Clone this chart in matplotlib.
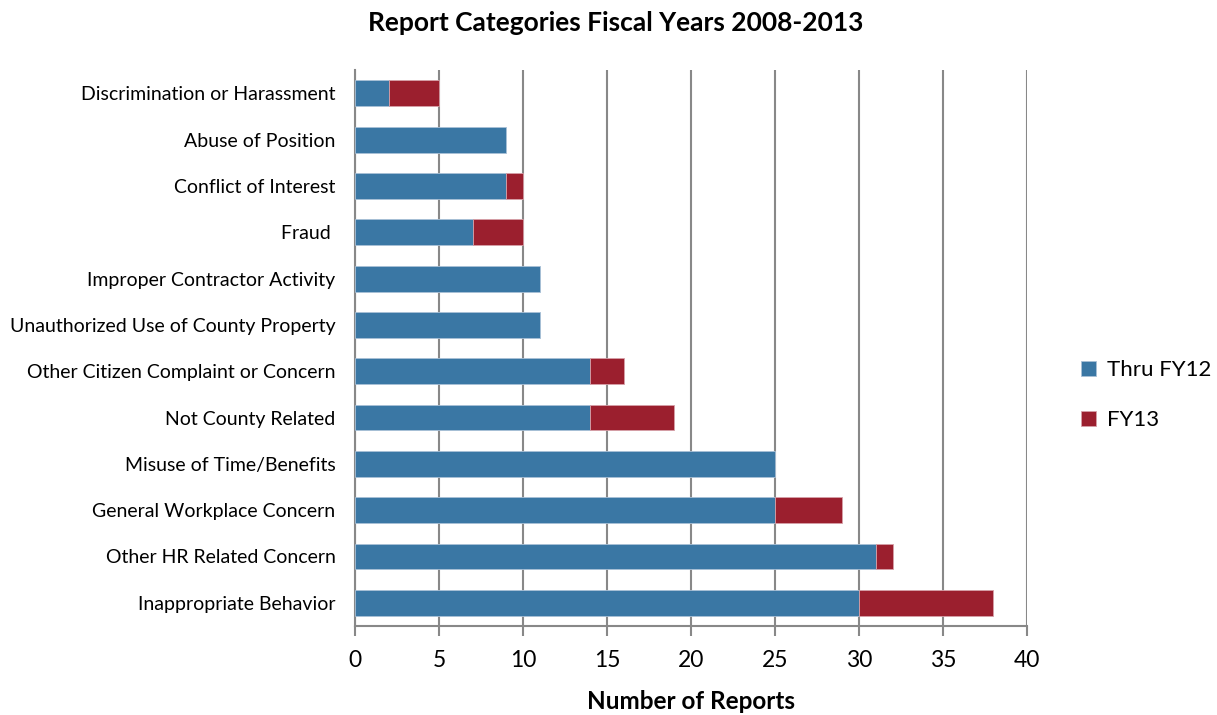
import matplotlib
matplotlib.use("Agg")
import matplotlib.pyplot as plt
import numpy as np

categories = [
    "Discrimination or Harassment",
    "Abuse of Position",
    "Conflict of Interest",
    "Fraud ",
    "Improper Contractor Activity",
    "Unauthorized Use of County Property",
    "Other Citizen Complaint or Concern",
    "Not County Related",
    "Misuse of Time/Benefits",
    "General Workplace Concern",
    "Other HR Related Concern",
    "Inappropriate Behavior",
]
thru_fy12 = [2, 9, 9, 7, 11, 11, 14, 14, 25, 25, 31, 30]
fy13 = [3, 0, 1, 3, 0, 0, 2, 5, 0, 4, 1, 8]

plt.rcParams["font.family"] = ["Lato", "DejaVu Sans"]

fig = plt.figure(figsize=(12.17, 7.15), dpi=100)
ax = fig.add_axes([0.2917, 0.1245, 0.5522, 0.7775])

y = np.arange(len(categories))
blue = "#3A77A4"
red = "#9B1F2E"
ax.barh(y, thru_fy12, height=0.56, color=blue, edgecolor="#a9c0d6", linewidth=0.6,
        label="Thru FY12", zorder=3)
# only draw the FY13 segment where there is one, so empty ones leave no edge line
idx = [i for i, v in enumerate(fy13) if v > 0]
ax.barh(y[idx], [fy13[i] for i in idx], left=[thru_fy12[i] for i in idx],
        height=0.56, color=red, edgecolor="#d6a0a8", linewidth=0.6,
        label="FY13", zorder=3)

ax.set_ylim(len(categories) - 0.5, -0.5)
ax.set_yticks(y)
ax.set_yticklabels(categories, fontsize=14)
ax.tick_params(axis="y", length=0, pad=14)
ax.set_xlim(0, 40)
ax.set_xticks(range(0, 41, 5))
ax.tick_params(axis="x", labelsize=16.5, length=7, width=1.5, color="#888888", pad=10)
ax.grid(axis="x", color="#888888", linewidth=1.5, zorder=0)
for s in ["top", "right"]:
    ax.spines[s].set_visible(False)
for s in ["left", "bottom"]:
    ax.spines[s].set_color("#888888")
    ax.spines[s].set_linewidth(1.5)

ax.set_xlabel("Number of Reports", fontsize=17.5, fontweight="bold", labelpad=14)
fig.suptitle("Report Categories Fiscal Years 2008-2013", fontsize=19,
             fontweight="bold", x=0.506, y=0.985)

ax.legend(loc="center left", bbox_to_anchor=(1.05, 0.415), frameon=False,
          fontsize=16, handlelength=0.7, handleheight=0.7, labelspacing=1.35,
          handletextpad=0.5)

fig.savefig("out.png", dpi=100)
